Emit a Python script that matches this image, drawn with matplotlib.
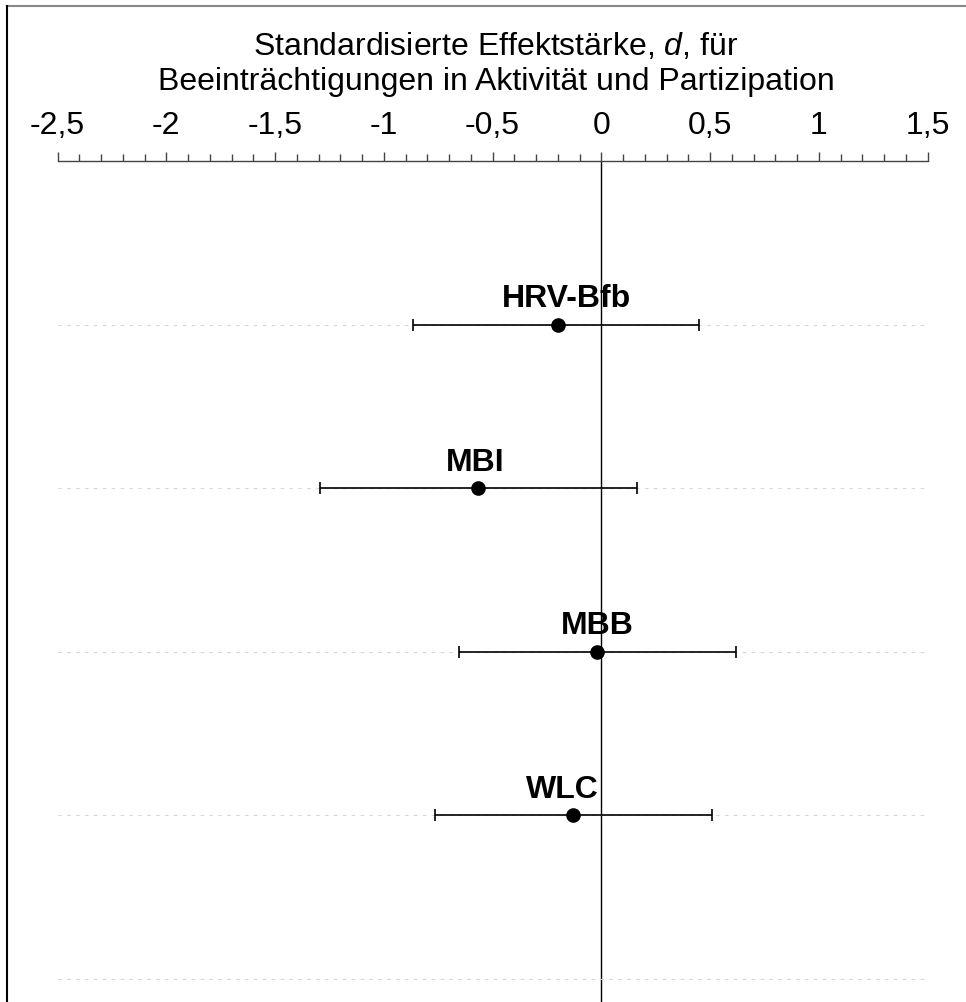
import numpy as np
import matplotlib
matplotlib.use("Agg")
import matplotlib.pyplot as plt
from matplotlib.lines import Line2D
from matplotlib.ticker import FixedLocator, MultipleLocator

plt.rcParams['font.family'] = ['Liberation Sans', 'DejaVu Sans']
plt.rcParams['mathtext.fontset'] = 'custom'
plt.rcParams['mathtext.rm'] = 'Liberation Sans'
plt.rcParams['mathtext.it'] = 'Liberation Sans:italic'

# Effect sizes (Cohen's d) with 95% confidence limits
categories = ['HRV-Bfb', 'MBI', 'MBB', 'WLC']
d_values = np.array([-0.20, -0.565, -0.02, -0.13])
ci_lower = np.array([-0.865, -1.295, -0.655, -0.765])
ci_upper = np.array([0.45, 0.165, 0.62, 0.51])

tick_values = [-2.5, -2, -1.5, -1, -0.5, 0, 0.5, 1, 1.5]
tick_labels = ['-2,5', '-2', '-1,5', '-1', '-0,5', '0', '0,5', '1', '1,5']

W, H = 966, 1003
fig = plt.figure(figsize=(W / 100, H / 100), dpi=100)
ax_left, ax_right, ax_top = 57.5, 927.7, 162
ax = fig.add_axes([ax_left / W, 0, (ax_right - ax_left) / W, (H - ax_top) / H])

row_step = 163.5
ax.set_xlim(-2.5, 1.5)
ax.set_ylim((H - ax_top) / row_step, 0)

rows = np.arange(1, len(categories) + 1)
grid_rows = np.arange(1, len(categories) + 2)

# dotted guide lines per row
ax.set_yticks(grid_rows)
ax.tick_params(axis='y', left=False, labelleft=False)
ax.grid(axis='y', color='#d4d4d4', linestyle=(0, (3, 5)), linewidth=0.8)
ax.grid(axis='x', visible=False)

# reference line at d = 0
ax.axvline(0, color='black', linewidth=1.0, zorder=1)

ax.errorbar(d_values, rows,
            xerr=[d_values - ci_lower, ci_upper - d_values],
            fmt='o', color='black', markersize=9.5,
            elinewidth=1.2, capsize=4.5, capthick=1.2, zorder=3)

label_shift = [6.5, -2, 0, -8]
for name, x, y, dx in zip(categories, d_values, rows, label_shift):
    ax.annotate(name, (x, y), xytext=(dx, 13), textcoords='offset points',
                ha='center', va='baseline', fontsize=23, fontweight='bold')

# top scale
for side in ['left', 'right', 'bottom']:
    ax.spines[side].set_visible(False)
ax.spines['top'].set_color('#444444')
ax.spines['top'].set_linewidth(1.0)
ax.xaxis.set_ticks_position('top')
ax.xaxis.set_label_position('top')
ax.xaxis.set_major_locator(FixedLocator(tick_values))
ax.set_xticklabels(tick_labels)
ax.xaxis.set_minor_locator(MultipleLocator(0.1))
ax.tick_params(axis='x', which='major', direction='out', length=6.8, width=1.0,
               color='#444444', labelsize=23, pad=8)
ax.tick_params(axis='x', which='minor', direction='out', length=4.7, width=1.0,
               color='#444444')

title_x = 496 / W
fig.text(title_x, 1 - 55 / H, 'Standardisierte Effektstärke, $d$, für',
         ha='center', va='baseline', fontsize=23)
fig.text(title_x, 1 - 90 / H, 'Beeinträchtigungen in Aktivität und Partizipation',
         ha='center', va='baseline', fontsize=23)

# frame lines
fig.add_artist(Line2D([7 / W, 1], [1 - 7 / H, 1 - 7 / H], color='#888888',
                      linewidth=1.5, transform=fig.transFigure))
fig.add_artist(Line2D([7 / W, 7 / W], [0, 1 - 7 / H], color='black',
                      linewidth=1.5, transform=fig.transFigure))

fig.savefig('out.png', dpi=100)
